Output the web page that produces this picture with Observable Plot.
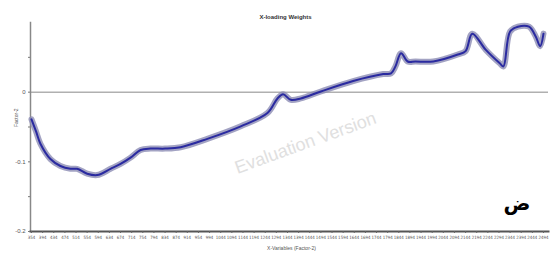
<!DOCTYPE html>
<html>
<head>
<meta charset="utf-8">
<script src="https://cdn.jsdelivr.net/npm/d3@7"></script>
<script src="https://cdn.jsdelivr.net/npm/@observablehq/plot@0.6"></script>
<style>
  html, body { margin: 0; padding: 0; background: #fff; }
  #chart svg { display: block; }
</style>
</head>
<body>
<div id="chart"></div>
<script>
// Tick labels (X-variables), evenly spaced categories
const tickLabels = ["354","394","434","474","514","554","594","634","674","714","754","794","834","874","914","954","994",
  "1044","1094","1144","1194","1244","1294","1344","1394","1444","1494","1544","1594","1644","1694","1744","1794","1844",
  "1894","1944","1994","2044","2094","2144","2194","2244","2294","2344","2394","2444","2494"];

// Series: position along variable index, Factor-2 loading weight
const seriesPos = [0, 0.4, 0.8, 1.7, 2.6, 3.5, 4.1, 5.0, 5.9, 7.1, 8.0, 8.9, 9.8, 10.7, 12.0, 13.4, 15.8, 18.8, 21.2,
  22.1, 22.6, 23.3, 24.2, 26.0, 28.9, 31.6, 32.3, 32.7, 33.2, 33.8, 34.5, 36.1, 38.3, 39.0, 39.6, 40.8, 42.1, 42.4,
  43.0, 43.7, 44.7, 45.3, 45.7, 46.0];
const seriesVal = [-0.039, -0.056, -0.074, -0.096, -0.106, -0.110, -0.110, -0.117, -0.119, -0.110, -0.103, -0.094,
  -0.083, -0.081, -0.081, -0.079, -0.067, -0.049, -0.030, -0.009, -0.003, -0.011, -0.009, 0.001, 0.016, 0.026, 0.027,
  0.037, 0.056, 0.044, 0.044, 0.044, 0.054, 0.059, 0.084, 0.061, 0.041, 0.037, 0.087, 0.094, 0.094, 0.080, 0.066, 0.084];

const yTicks = [-0.2, -0.1, 0];
const yMinor = [-0.15, -0.05, 0.05];

const data = seriesPos.map((p, i) => ({pos: p, val: seriesVal[i]}));
const tickIdx = tickLabels.map((_, i) => i);

const chart = Plot.plot({
  width: 557,
  height: 255,
  marginLeft: 30,
  marginRight: 9,
  marginTop: 22,
  marginBottom: 24,
  style: {fontFamily: "Liberation Sans, Arial, sans-serif", background: "#fff"},
  x: {domain: [-0.09, 46.45]},
  y: {domain: [-0.2, 0.1]},
  marks: [
    Plot.ruleY([0], {stroke: "#b0b0b0", strokeWidth: 1.5}),
    Plot.frame({anchor: "left", stroke: "#888", strokeWidth: 1.5}),
    Plot.frame({anchor: "bottom", stroke: "#555", strokeWidth: 2}),
    Plot.axisX({ticks: tickIdx, tickFormat: i => tickLabels[i], tickSize: 2, tickPadding: 2,
      fontSize: 4.4, fontFamily: "DejaVu Sans Condensed", fill: "#555", stroke: "#666", label: null}),
    Plot.axisY({ticks: yTicks, tickFormat: d => d === 0 ? "0" : d.toFixed(1), tickSize: 2, tickPadding: 3,
      fontSize: 6, fill: "#555", stroke: "#777", label: null}),
    Plot.axisY({ticks: yMinor, tickFormat: () => "", tickSize: 2, stroke: "#777", label: null}),
    Plot.text(["Factor-2"], {frameAnchor: "left", dx: -14, rotate: -90, fontSize: 5, fill: "#555"}),
    Plot.text(["X-Variables (Factor-2)"], {frameAnchor: "bottom", dx: 2, dy: 18, fontSize: 5, fill: "#555"}),
    Plot.text(["X-loading Weights"], {frameAnchor: "top", dx: -4, dy: -8, fontSize: 6, fontWeight: "bold", fill: "#333"}),
    Plot.text(["Evaluation Version"], {frameAnchor: "middle", dx: 16, dy: 16, rotate: -20, fontSize: 18,
      fill: "#e0e0e0"}),
    Plot.line(data, {x: "pos", y: "val", stroke: "#8c8cb4", strokeWidth: 6, strokeOpacity: 0.8, curve: "catmull-rom"}),
    Plot.line(data, {x: "pos", y: "val", stroke: "#2a2aa0", strokeWidth: 2, curve: "catmull-rom"}),
    Plot.text(["ض"], {frameAnchor: "bottom-right", dx: -18, dy: -22, fontSize: 20, fontWeight: "bold",
      fill: "#000", fontFamily: "DejaVu Sans"})
  ]
});
document.getElementById("chart").appendChild(chart);
</script>
</body>
</html>
